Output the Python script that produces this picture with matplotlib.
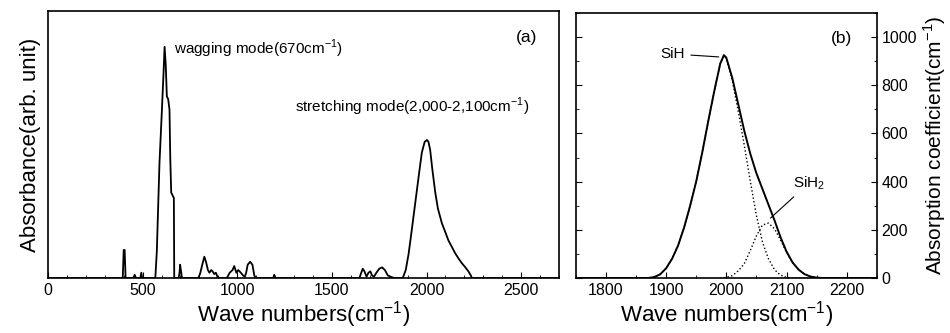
import numpy as np
import matplotlib
matplotlib.use('Agg')
import matplotlib.pyplot as plt
from matplotlib.ticker import MultipleLocator

plt.rcParams['font.family'] = ['Liberation Sans', 'DejaVu Sans']
plt.rcParams['mathtext.fontset'] = 'custom'
plt.rcParams['mathtext.rm'] = 'Liberation Sans'

# (a) IR absorbance spectrum
wn_a = [0, 395, 400, 405, 410, 415, 450, 458, 465, 488, 493, 498,
        567, 575, 589, 600, 610, 616, 622, 628, 635, 642, 646, 651, 658, 665, 667,
        690, 695, 698, 702, 708,
        795, 805, 815, 826, 835, 845, 853, 862, 870, 878, 887, 895, 905,
        945, 960, 975, 984, 995, 1005, 1019, 1030, 1040, 1047, 1055, 1068, 1080, 1090, 1097,
        1190, 1195, 1200,
        1645, 1655, 1663, 1672, 1683, 1693, 1703, 1712, 1722, 1735, 1750, 1765, 1780, 1795, 1810, 1830,
        1874, 1890, 1905, 1920, 1940, 1960, 1975, 1990, 2002, 2010, 2019, 2030, 2046,
        2060, 2081, 2100, 2116, 2135, 2151, 2170, 2186, 2205, 2221, 2232, 2240, 2700]
abs_a = [0, 0, 0.105, 0.105, 0, 0, 0, 0.012, 0, 0, 0.02, 0,
         0, 0.10, 0.43, 0.60, 0.76, 0.866, 0.80, 0.68, 0.67, 0.63, 0.45, 0.32, 0.31, 0.30, 0,
         0, 0.02, 0.05, 0.03, 0,
         0, 0.02, 0.05, 0.08, 0.06, 0.03, 0.02, 0.03, 0.025, 0.015, 0.02, 0.005, 0,
         0, 0.02, 0.03, 0.045, 0.02, 0.03, 0.02, 0.01, 0.005, 0.02, 0.05, 0.061, 0.05, 0.01, 0,
         0, 0.012, 0,
         0, 0.02, 0.035, 0.025, 0.005, 0.02, 0.025, 0.01, 0.005, 0.02, 0.035, 0.04, 0.03, 0.01, 0.005, 0,
         0, 0.03, 0.09, 0.17, 0.28, 0.39, 0.47, 0.51, 0.517, 0.51, 0.48, 0.41, 0.32,
         0.26, 0.205, 0.17, 0.14, 0.115, 0.093, 0.072, 0.056, 0.04, 0.025, 0.012, 0, 0]

# (b) stretching band and its two fitted components
wn_b = [1750, 1870, 1880, 1890, 1900, 1910, 1920, 1930, 1940, 1950, 1960, 1970,
        1980, 1990, 1996, 2000, 2010, 2020, 2030, 2040, 2050, 2060, 2070, 2080,
        2090, 2100, 2110, 2120, 2130, 2140, 2150, 2160, 2250]
total_b = [0, 0, 4, 15, 40, 80, 135, 210, 300, 400, 520, 650,
           775, 890, 925, 915, 830, 720, 610, 515, 435, 370, 305, 240,
           170, 110, 65, 35, 16, 6, 2, 0, 0]
sih_b = [0, 0, 4, 15, 40, 80, 135, 210, 300, 400, 520, 650,
         775, 890, 922, 912, 820, 690, 550, 400, 260, 150, 80, 35,
         12, 3, 0, 0, 0, 0, 0, 0, 0]
sih2_wn = [1990, 2000, 2010, 2020, 2030, 2040, 2050, 2060, 2070, 2080,
           2090, 2100, 2110, 2120, 2130, 2140, 2150, 2160]
sih2_b = [0, 3, 10, 30, 60, 115, 175, 220, 228, 205,
          158, 107, 65, 35, 16, 6, 2, 0]

fig = plt.figure(figsize=(9.5, 3.33), dpi=100)
ax1 = fig.add_axes([0.0505, 0.165, 0.538, 0.802])
ax2 = fig.add_axes([0.606, 0.165, 0.317, 0.796])

ax1.plot(wn_a, abs_a, color='black', lw=1.3)
ax1.set_xlim(0, 2700)
ax1.set_ylim(0, 1.0)
ax1.set_yticks([])
ax1.xaxis.set_major_locator(MultipleLocator(500))
ax1.xaxis.set_minor_locator(MultipleLocator(100))
ax1.tick_params(axis='x', which='both', direction='in', labelsize=11.5)
ax1.tick_params(axis='x', which='major', length=4)
ax1.tick_params(axis='x', which='minor', length=2)
ax1.set_xlabel('Wave numbers(cm$^{-1}$)', fontsize=16, labelpad=1)
ax1.set_ylabel('Absorbance(arb. unit)', fontsize=16, labelpad=5)
ax1.text(668, 0.84, 'wagging mode(670cm$^{-1}$)', fontsize=11)
ax1.text(1305, 0.62, 'stretching mode(2,000-2,100cm$^{-1}$)', fontsize=11)
ax1.text(2526, 0.9, '(a)', fontsize=12.5, ha='center', va='center')

ax2.plot(wn_b, total_b, color='black', lw=1.4)
ax2.plot(wn_b, sih_b, color='black', lw=1.0, ls=':')
ax2.plot(sih2_wn, sih2_b, color='black', lw=1.0, ls=':')
ax2.set_xlim(1750, 2250)
ax2.set_ylim(0, 1100)
ax2.xaxis.set_major_locator(MultipleLocator(100))
ax2.xaxis.set_minor_locator(MultipleLocator(50))
ax2.yaxis.set_major_locator(MultipleLocator(200))
ax2.yaxis.set_minor_locator(MultipleLocator(100))
ax2.yaxis.tick_right()
ax2.yaxis.set_label_position('right')
ax2.tick_params(which='both', direction='in', labelsize=11.5, left=True, right=True)
ax2.tick_params(which='major', length=4)
ax2.tick_params(which='minor', length=2)
ax2.set_xlabel('Wave numbers(cm$^{-1}$)', fontsize=16, labelpad=1)
ax2.set_ylabel('Absorption coefficient(cm$^{-1}$)', fontsize=15, labelpad=3)
ax2.annotate('SiH', xy=(1992, 917), xytext=(1932, 930), fontsize=11,
             ha='right', va='center',
             arrowprops=dict(arrowstyle='-', color='black', lw=0.8))
ax2.annotate('SiH$_2$', xy=(2070, 241), xytext=(2110, 393), fontsize=11,
             ha='left', va='center',
             arrowprops=dict(arrowstyle='-', color='black', lw=0.8))
ax2.text(2192, 993, '(b)', fontsize=12.5, ha='center', va='center')

for ax in (ax1, ax2):
    for s in ax.spines.values():
        s.set_linewidth(1.2)

fig.savefig('out.png', dpi=100)
